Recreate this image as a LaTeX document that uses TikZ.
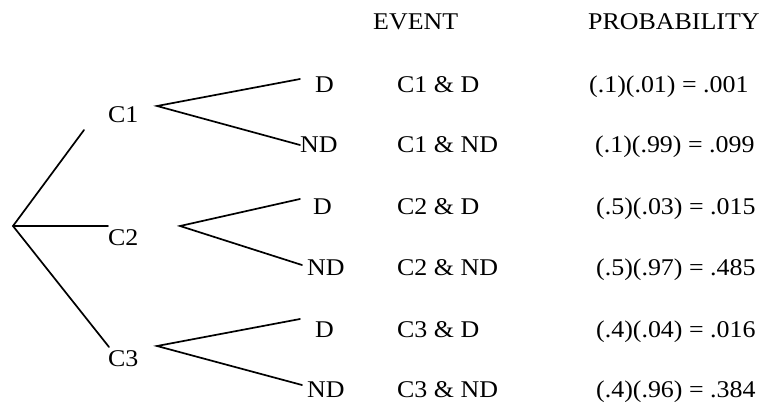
\documentclass[tikz,border=0pt]{standalone}
\usepackage{fontspec}
\setmainfont{Liberation Serif}[FakeStretch=1.08]
\begin{document}
\begin{tikzpicture}[x=1pt,y=-1pt,
  branch/.style={line width=1.7pt,line cap=round},
  lbl/.style={anchor=base west,inner sep=0pt,font=\fontsize{24}{28}\selectfont}]
\useasboundingbox (0,0) rectangle (765,402);
\fill[white] (0,0) rectangle (765,402);

% column headings
\node[lbl] (hev) at (373,29) {EVENT};
\node[lbl] (hpr) at (588,29) {PROBABILITY};

% first-level branch points
\coordinate (root) at (13,226);
\coordinate (e1) at (84,130);
\coordinate (e2) at (108,226);
\coordinate (e3) at (109,347);
\draw[branch] (e1) -- (root) -- (e3);
\draw[branch] (root) -- (e2);

% first-level labels
\node[lbl] (c1) at (108,122) {C1};
\node[lbl] (c2) at (108,245) {C2};
\node[lbl] (c3) at (108,366) {C3};

% second-level fans
\coordinate (s1) at (157,106);
\coordinate (d1) at (300,79);
\coordinate (n1) at (300,145);
\coordinate (s2) at (180,226);
\coordinate (d2) at (300,199);
\coordinate (n2) at (302,265);
\coordinate (s3) at (157,346);
\coordinate (d3) at (300,319);
\coordinate (n3) at (302,385);
\draw[branch] (d1) -- (s1) -- (n1);
\draw[branch] (d2) -- (s2) -- (n2);
\draw[branch] (d3) -- (s3) -- (n3);

% outcome labels
\node[lbl] (ld1) at (315,92) {D};
\node[lbl] (ln1) at (300,152) {ND};
\node[lbl] (ld2) at (313,214) {D};
\node[lbl] (ln2) at (307,275) {ND};
\node[lbl] (ld3) at (315,337) {D};
\node[lbl] (ln3) at (307,397) {ND};

% events
\node[lbl] (ev1) at (397,92) {C1 \& D};
\node[lbl] (ev2) at (397,152) {C1 \& ND};
\node[lbl] (ev3) at (397,214) {C2 \& D};
\node[lbl] (ev4) at (397,275) {C2 \& ND};
\node[lbl] (ev5) at (397,337) {C3 \& D};
\node[lbl] (ev6) at (397,397) {C3 \& ND};

% probabilities
\node[lbl] (p1) at (589,92) {(.1)(.01) = .001};
\node[lbl] (p2) at (595,152) {(.1)(.99) = .099};
\node[lbl] (p3) at (596,214) {(.5)(.03) = .015};
\node[lbl] (p4) at (596,275) {(.5)(.97) = .485};
\node[lbl] (p5) at (596,337) {(.4)(.04) = .016};
\node[lbl] (p6) at (596,397) {(.4)(.96) = .384};
\end{tikzpicture}
\end{document}
